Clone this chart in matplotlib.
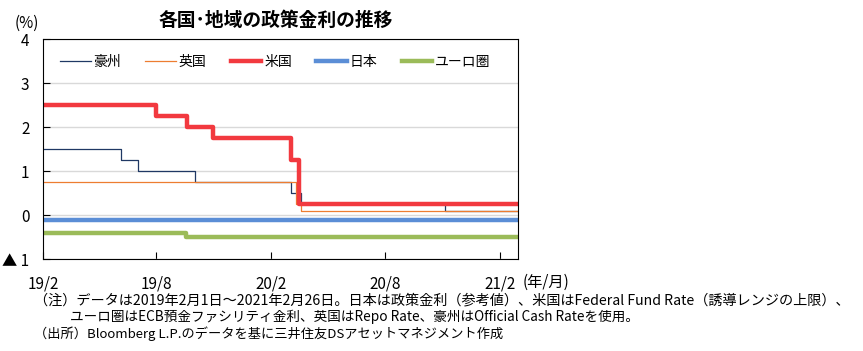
import matplotlib.pyplot as plt
import pandas as pd

plt.rcParams['font.family'] = ['Noto Sans CJK JP', 'DejaVu Sans']

end = '2021-03-01'

# policy rates, change dates (step, held until next date)
au_dates = ['2019-02-01', '2019-06-05', '2019-07-03', '2019-10-02', '2020-03-04', '2020-03-20', '2020-11-04', end]
au_rates = [1.5, 1.25, 1.0, 0.75, 0.5, 0.25, 0.1, 0.1]

uk_dates = ['2019-02-01', '2020-03-11', '2020-03-19', end]
uk_rates = [0.75, 0.25, 0.1, 0.1]

us_dates = ['2019-02-01', '2019-08-01', '2019-09-19', '2019-10-31', '2020-03-04', '2020-03-16', end]
us_rates = [2.5, 2.25, 2.0, 1.75, 1.25, 0.25, 0.25]

jp_dates = ['2019-02-01', end]
jp_rates = [-0.1, -0.1]

eu_dates = ['2019-02-01', '2019-09-18', end]
eu_rates = [-0.4, -0.5, -0.5]

series = [
    ('豪州', au_dates, au_rates, '#1F3864', 0.9),
    ('英国', uk_dates, uk_rates, '#ED7D31', 0.9),
    ('米国', us_dates, us_rates, '#F2393F', 3.2),
    ('日本', jp_dates, jp_rates, '#5B8ED6', 3.2),
    ('ユーロ圏', eu_dates, eu_rates, '#9BBB59', 3.2),
]

x_ticks = ['2019-02-01', '2019-08-01', '2020-02-01', '2020-08-01', '2021-02-01']
x_labels = ['19/2', '19/8', '20/2', '20/8', '21/2']
y_ticks = [-1, 0, 1, 2, 3, 4]
y_labels = ['▲ 1', '0', '1', '2', '3', '4']

W, H = 863, 351
fig = plt.figure(figsize=(W / 100, H / 100), dpi=100)
ax = fig.add_axes([43.3 / W, 1 - 259.3 / H, 474.4 / W, 220 / H])

for name, d, r, c, lw in series:
    ax.step(pd.to_datetime(d), r, where='post', color=c, lw=lw, label=name)

ax.set_ylim(-1, 4)
ax.set_xlim(pd.Timestamp('2019-02-01'), pd.Timestamp(end))
ax.set_yticks(y_ticks)
ax.set_yticklabels(y_labels, fontsize=11)
ax.set_xticks(pd.to_datetime(x_ticks))
ax.set_xticklabels(x_labels, fontsize=11)
ax.tick_params(direction='in', length=5, width=0.8, color='black')
ax.tick_params(axis='x', pad=12)
ax.tick_params(axis='y', pad=10)
ax.yaxis.grid(True, color='#D9D9D9', lw=1)
ax.set_axisbelow(True)
for s in ax.spines.values():
    s.set_linewidth(0.8)

ax.legend(loc='center', bbox_to_anchor=(0.489, 0.898), ncol=5, frameon=False,
          fontsize=10, handlelength=2.2, handletextpad=0.2, columnspacing=1.75,
          borderpad=0, borderaxespad=0)

fig.text(15 / W, 1 - 23 / H, '(%)', fontsize=11, va='center')
fig.text(523 / W, 1 - 282 / H, '(年/月)', fontsize=11, va='center')
fig.text(276 / W, 1 - 20 / H, '各国･地域の政策金利の推移', fontsize=13.5,
         fontweight='bold', ha='center', va='center')

notes = [
    (34, 300, 10.2, '（注）データは2019年2月1日～2021年2月26日。日本は政策金利（参考値）、米国はFederal Fund Rate（誘導レンジの上限）、'),
    (70, 317, 9.8, 'ユーロ圏はECB預金ファシリティ金利、英国はRepo Rate、豪州はOfficial Cash Rateを使用。'),
    (34, 334, 9.5, '（出所）Bloomberg L.P.のデータを基に三井住友DSアセットマネジメント作成'),
]
for x, y, fs, t in notes:
    fig.text(x / W, 1 - y / H, t, fontsize=fs, va='center')

fig.savefig('out.png', dpi=100)
